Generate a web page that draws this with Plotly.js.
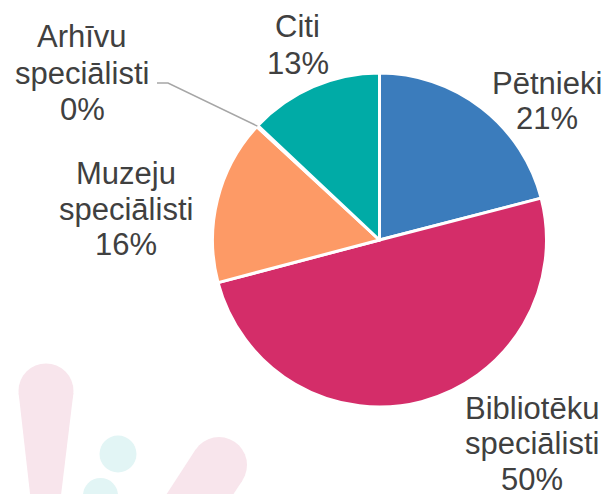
<!DOCTYPE html>
<html>
<head>
<meta charset="utf-8">
<script src="https://cdn.plot.ly/plotly-3.0.1.min.js"></script>
<style>html,body{margin:0;padding:0;background:#fff;}#chart{width:610px;height:494px;}</style>
</head>
<body>
<div id="chart"></div>
<script>
// ---- data ----
const categories = ["Pētnieki", "Bibliotēku speciālisti", "Muzeju speciālisti", "Arhīvu speciālisti", "Citi"];
const values = [21, 50, 16, 0.15, 13];
const colors = ["#3b7cbc", "#d42d69", "#fd9a66", "#ffffff", "#00aba6"];

// ---- layout helpers (pixel -> paper) ----
const W = 610, H = 494;
const px = x => x / W;
const py = y => 1 - y / H;
const cx = 379.5, cy = 240, R = 167;

// label placement (pixel centre x, baselines of each line)
const labelPos = [
  {x: 547, base: [92, 127]},
  {x: 531.5, base: [417, 452, 488]},
  {x: 126, base: [182, 218, 253]},
  {x: 82, base: [45, 82, 118]},
  {x: 297.5, base: [35, 72]}
];
const FS = 31;
const total = values.reduce((a, b) => a + b, 0);
const annotations = [];
categories.forEach((c, i) => {
  const lines = c.split(" ");
  lines.push(Math.round(values[i] / total * 100) + "%");
  lines.forEach((t, j) => {
    annotations.push({
      x: px(labelPos[i].x), y: py(labelPos[i].base[j] - 8.5),
      xref: "paper", yref: "paper", xanchor: "center", yanchor: "middle",
      showarrow: false, text: t,
      font: {family: "Liberation Sans, Arial, sans-serif", size: FS, color: "#404040"}
    });
  });
});

// leader line for the tiny slice (index 3), ending at slice mid-angle on the rim
let cum = 0;
for (let k = 0; k < 3; k++) cum += values[k];
const midFrac = (cum + values[3] / 2) / total;
const ang = midFrac * 2 * Math.PI;
const ex = cx + R * Math.sin(ang), ey = cy - R * Math.cos(ang);

const pink = "#f8e5ec", teal = "#e2f5f5";
function circ(x, y, r, col) {
  return {type: "circle", xref: "paper", yref: "paper", layer: "below",
    x0: px(x - r), x1: px(x + r), y0: py(y + r), y1: py(y - r),
    fillcolor: col, line: {width: 0}};
}
function poly(pts, col) {
  const d = pts.map((p, i) => (i ? "L" : "M") + px(p[0]) + "," + py(p[1])).join(" ") + " Z";
  return {type: "path", xref: "paper", yref: "paper", layer: "below", path: d,
    fillcolor: col, line: {width: 0}};
}
const shapes = [
  circ(46, 391, 27.5, pink),
  poly([[18.6, 393], [73.4, 393], [58, 520], [33, 520]], pink),
  circ(118, 454, 18.5, teal),
  circ(100.5, 495.5, 17.5, teal),
  circ(219, 465, 28, pink),
  poly([[242.4, 480.4], [195.6, 449.6], [140, 535], [187, 565]], pink),
  {type: "path", xref: "paper", yref: "paper",
    path: "M" + px(157) + "," + py(83) + " L" + px(168) + "," + py(83) + " L" + px(ex) + "," + py(ey),
    line: {color: "#a6a6a6", width: 1.5}}
];

const trace = {
  type: "pie",
  labels: categories,
  values: values,
  sort: false,
  direction: "clockwise",
  rotation: 0,
  textinfo: "none",
  hoverinfo: "skip",
  marker: {colors: colors, line: {color: "#ffffff", width: 3}},
  domain: {x: [px(cx - R), px(cx + R)], y: [py(cy + R), py(cy - R)]}
};

const layout = {
  width: W, height: H,
  margin: {l: 0, r: 0, t: 0, b: 0},
  paper_bgcolor: "#ffffff",
  showlegend: false,
  annotations: annotations,
  shapes: shapes
};
Plotly.newPlot("chart", [trace], layout, {displayModeBar: false, staticPlot: true});
</script>
</body>
</html>
